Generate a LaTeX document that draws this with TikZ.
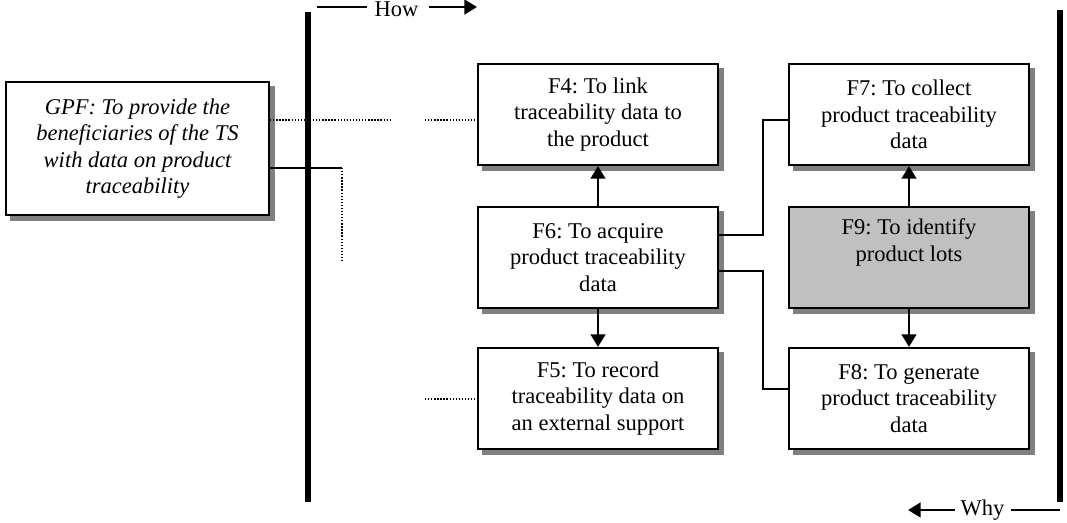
\documentclass[tikz,border=0pt]{standalone}
\usepackage{fontspec}
\setmainfont{Liberation Serif}
\frenchspacing
\usetikzlibrary{arrows.meta,backgrounds}
\definecolor{lotgray}{RGB}{192,192,192}
\definecolor{shadegray}{RGB}{128,128,128}
\tikzset{every picture/.style={line width=0.75pt}}
\tikzset{
  fbox/.style={draw, line width=1.6pt, fill=white, minimum width=179.5pt, minimum height=75.75pt,
    inner sep=0pt, align=center, font=\fontsize{16.9}{19.9}\selectfont},
  shade/.style={fill=shadegray},
  barline/.style={line width=4.5pt},
  dotline/.style={line width=1pt, dash pattern=on 1pt off 1.3pt},
  elbow/.style={line width=1pt},
  flow/.style={line width=2pt, -{Triangle[length=9.5pt,width=11pt]}},
  howwhy/.style={font=\fontsize{16.9}{19.9}\selectfont, inner sep=0pt}
}

\begin{document}
\begin{tikzpicture}[x=0.75pt,y=0.75pt,yscale=-1,xscale=1]
\useasboundingbox (0,0) rectangle (1067,523);

%Shape: Rectangle [GPF]
\node [fbox, minimum width=197.25pt, minimum height=99.75pt, font=\fontsize{16.9}{19.9}\selectfont\itshape] (GPF) at (137.5,148.5) {GPF: To provide the\\beneficiaries of the TS\\with data on product\\traceability};

%Shape: Rectangle [F4..F6]
\node [fbox] (F4) at (598,114.5) {F4: To link\\traceability data to\\the product};
\node [fbox] (F6) at (598,257.5) {F6: To acquire\\product traceability\\data};
\node [fbox] (F5) at (598,398.5) {F5: To record\\traceability data on\\an external support};
%Shape: Rectangle [F7..F9]
\node [fbox] (F7) at (909,114.5) {F7: To collect\\product traceability\\data};
\node [fbox, fill=lotgray] (F9) at (909,257.5) {F9: To identify\\product lots\\\strut};
\node [fbox] (F8) at (909,398.5) {F8: To generate\\product traceability\\data};

%Shape: Shadows
\begin{scope}[on background layer]
\fill [shade] ([shift={(5,5)}]GPF.north west) rectangle ([shift={(5,5)}]GPF.south east);
\fill [shade] ([shift={(5,5)}]F4.north west) rectangle ([shift={(5,5)}]F4.south east);
\fill [shade] ([shift={(5,5)}]F6.north west) rectangle ([shift={(5,5)}]F6.south east);
\fill [shade] ([shift={(5,5)}]F5.north west) rectangle ([shift={(5,5)}]F5.south east);
\fill [shade] ([shift={(5,5)}]F7.north west) rectangle ([shift={(5,5)}]F7.south east);
\fill [shade] ([shift={(5,5)}]F9.north west) rectangle ([shift={(5,5)}]F9.south east);
\fill [shade] ([shift={(5,5)}]F8.north west) rectangle ([shift={(5,5)}]F8.south east);
\end{scope}

%Straight Lines [dotted links]
\coordinate (d1) at (390,120);
\coordinate (d2) at (425,120);
\coordinate (d3) at (425,399);
\coordinate (g1) at (342,168);
\coordinate (g2) at (342,262);
\draw [dotline] (GPF.east |- d1) -- (d1);
\draw [dotline] (d2) -- (F4.west |- d2);
\draw [dotline] (d3) -- (F5.west |- d3);
\draw [elbow] (GPF.east |- g1) -- (g1);
\draw [dotline] (g1) -- (g2);

%Straight Lines [bars]
\draw [barline] (308,12) -- (308,502);
\draw [barline] (1060,10) -- (1060,502);

%Straight Lines [elbows]
\coordinate (e7a) at (763,235);
\coordinate (e7b) at (763,120);
\coordinate (e8a) at (763,271);
\coordinate (e8b) at (763,389);
\draw [elbow] (F6.east |- e7a) -- (e7a) -- (e7b) -- (F7.west |- e7b);
\draw [elbow] (F6.east |- e8a) -- (e8a) -- (e8b) -- (F8.west |- e8b);

%Straight Lines [arrows]
\draw [flow] (F6.north) -- (F4.south);
\draw [flow] (F6.south) -- (F5.north);
\draw [flow] (F9.north) -- (F7.south);
\draw [flow] (F9.south) -- (F8.north);

% Text Node
\node [howwhy] (how) at (396.5,9.5) {How};
\coordinate (h0) at (317,7);
\coordinate (h1) at (367,7);
\coordinate (h2) at (429,7);
\coordinate (h3) at (477,7);
\draw [elbow] (h0) -- (h1);
\draw [flow] (h2) -- (h3);

% Text Node
\node [howwhy] (why) at (982.5,510) {Why};
\coordinate (w0) at (908,510);
\coordinate (w1) at (955,510);
\coordinate (w2) at (1011,510);
\coordinate (w3) at (1060,510);
\draw [flow] (w1) -- (w0);
\draw [elbow] (w2) -- (w3);

\end{tikzpicture}
\end{document}
